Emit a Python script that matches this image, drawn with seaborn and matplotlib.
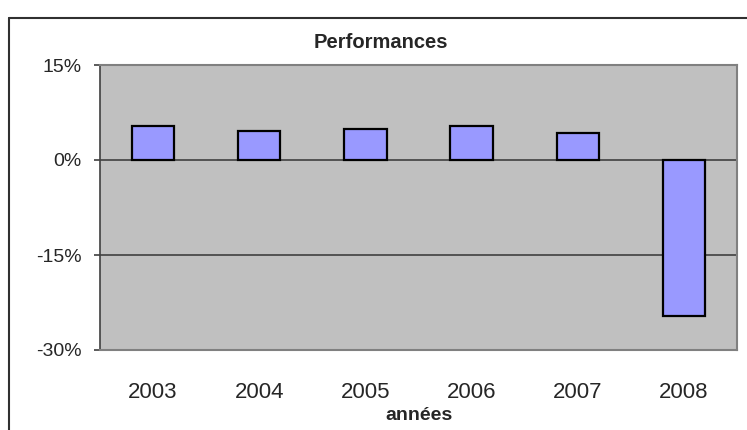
import seaborn as sns
import matplotlib.pyplot as plt
import pandas as pd
from matplotlib.lines import Line2D

# values (in %)
years = ["2003", "2004", "2005", "2006", "2007", "2008"]
perf = [5.3, 4.6, 4.9, 5.3, 4.3, -24.7]
yticks = [15, 0, -15, -30]
ytick_labels = ["15%", "0%", "-15%", "-30%"]

df = pd.DataFrame({"annee": years, "perf": perf})

sns.set_style("white", {"axes.facecolor": "#C0C0C0"})
plt.rcParams["font.family"] = ["Liberation Sans", "DejaVu Sans"]

fig = plt.figure(figsize=(7.47, 4.30), dpi=100)
ax = fig.add_axes([100 / 747, 1 - 350 / 430, 637 / 747, 285 / 430])

sns.barplot(data=df, x="annee", y="perf", color="#9999FF", edgecolor="black",
            linewidth=1.6, width=0.4, saturation=1, ax=ax, zorder=3)

ax.set_ylim(-30, 15)
ax.set_yticks(yticks)
ax.set_yticklabels(ytick_labels)
# horizontal grid lines
for y in [0, -15]:
    ax.axhline(y, color="#404040", lw=1.2, zorder=1)

for side in ["top", "right", "bottom"]:
    ax.spines[side].set_color("#808080")
    ax.spines[side].set_linewidth(1.5)
ax.spines["left"].set_color("#404040")
ax.spines["left"].set_linewidth(1.2)

ax.tick_params(axis="y", length=4, width=1.2, color="#404040", pad=9, labelsize=14, left=True)
ax.tick_params(axis="x", length=0, pad=23, labelsize=16)

ax.set_xlabel("années", fontsize=14, fontweight="bold", labelpad=3)
ax.set_ylabel("")

fig.text(0.51, 1 - 42 / 430, "Performances", ha="center", va="center",
         fontsize=14.5, fontweight="bold")

# chart border (left and top edges visible)
fig.add_artist(Line2D([9 / 747, 9 / 747], [0, 1 - 18 / 430], transform=fig.transFigure,
                      color="#303030", lw=1.5))
fig.add_artist(Line2D([9 / 747, 1], [1 - 18 / 430, 1 - 18 / 430], transform=fig.transFigure,
                      color="#303030", lw=1.5))

fig.savefig("out.png", dpi=100)
